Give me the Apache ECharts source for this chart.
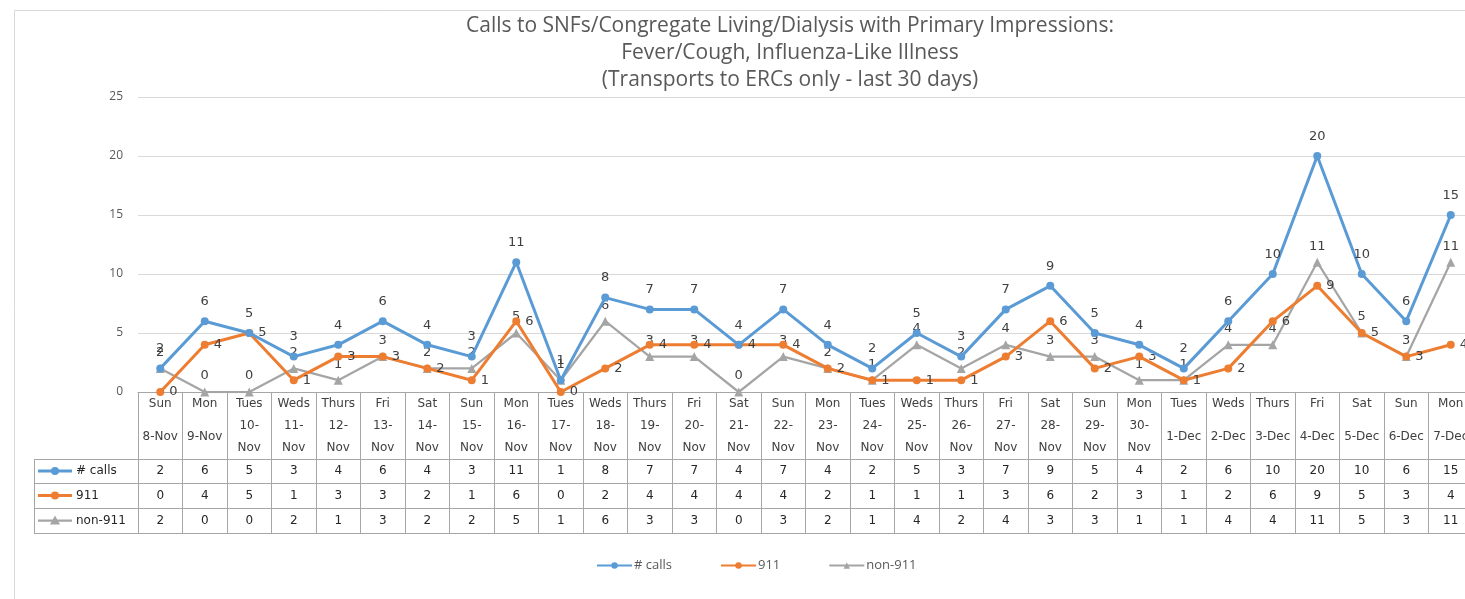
<!DOCTYPE html>
<html><head><meta charset="utf-8">
<script src="https://cdn.jsdelivr.net/npm/echarts@6/dist/echarts.min.js"></script>
<style>html,body{margin:0;padding:0;background:#fff}#c{width:1465px;height:599px}</style>
</head><body><div id="c"></div>
<script>
const titleLines = ['Calls to SNFs/Congregate Living/Dialysis with Primary Impressions:', 'Fever/Cough, Influenza-Like Illness', '(Transports to ERCs only - last 30 days)'];
const days = ['Sun','Mon','Tues','Weds','Thurs','Fri','Sat','Sun','Mon','Tues','Weds','Thurs','Fri','Sat','Sun','Mon','Tues','Weds','Thurs','Fri','Sat','Sun','Mon','Tues','Weds','Thurs','Fri','Sat','Sun','Mon'];
const dates = ['8-Nov','9-Nov','10-Nov','11-Nov','12-Nov','13-Nov','14-Nov','15-Nov','16-Nov','17-Nov','18-Nov','19-Nov','20-Nov','21-Nov','22-Nov','23-Nov','24-Nov','25-Nov','26-Nov','27-Nov','28-Nov','29-Nov','30-Nov','1-Dec','2-Dec','3-Dec','4-Dec','5-Dec','6-Dec','7-Dec'];
const seriesNames = ['# calls', '911', 'non-911'];
const calls = [2,6,5,3,4,6,4,3,11,1,8,7,7,4,7,4,2,5,3,7,9,5,4,2,6,10,20,10,6,15];
const n911 = [0,4,5,1,3,3,2,1,6,0,2,4,4,4,4,2,1,1,1,3,6,2,3,1,2,6,9,5,3,4];
const non911 = [2,0,0,2,1,3,2,2,5,1,6,3,3,0,3,2,1,4,2,4,3,3,1,1,4,4,11,5,3,11];
const yTicks = [0,5,10,15,20,25];

const colors = ['#5b9bd5', '#ed7d31', '#a5a5a5'];
const FONT = 'Open Sans';
const TFONT = 'DejaVu Sans';
const categories = days.map((d, i) => d + '|' + dates[i]);

const chart = echarts.init(document.getElementById('c'), null, {renderer: 'canvas'});
const GRID = {left: 138, top: 97, height: 295, width: 1335, containLabel: false, outerBoundsMode: 'none'};
const labelStyle = {show: true, color: '#404040', fontSize: 13, fontFamily: TFONT};

const option = {
  animation: false,
  textStyle: {fontFamily: FONT},
  grid: GRID,
  legend: {
    top: 554, left: 591, itemWidth: 35, itemHeight: 8, itemGap: 48,
    textStyle: {color: '#595959', fontSize: 13, fontFamily: FONT, padding: [0, 0, 0, -3]},
    data: seriesNames
  },
  xAxis: {
    type: 'category', data: categories, boundaryGap: true,
    axisLine: {lineStyle: {color: '#a6a6a6', width: 1}},
    axisTick: {show: true, length: 141, lineStyle: {color: '#a6a6a6', width: 1}},
    axisLabel: {
      interval: 0, margin: 1, color: '#404040', fontFamily: TFONT, fontSize: 12,
      formatter: function (v) {
        const p = v.split('|');
        const dt = p[1];
        if (dt.length > 5) {
          const k = dt.indexOf('-');
          return '{d|' + p[0] + '}\n{a|' + dt.slice(0, k + 1) + '}\n{a|' + dt.slice(k + 1) + '}';
        }
        return '{d|' + p[0] + '}\n{b|' + dt + '}';
      },
      rich: {
        d: {lineHeight: 22, fontSize: 12, color: '#404040', fontFamily: TFONT},
        a: {lineHeight: 22, fontSize: 12, color: '#404040', fontFamily: TFONT},
        b: {lineHeight: 44, fontSize: 12, color: '#404040', fontFamily: TFONT}
      }
    }
  },
  yAxis: {
    type: 'value', min: 0, max: 25, interval: 5,
    axisLine: {show: false}, axisTick: {show: false},
    axisLabel: {color: '#595959', fontSize: 12, fontFamily: FONT, margin: 15,
      formatter: v => (yTicks.indexOf(v) >= 0 ? String(v) : '')},
    splitLine: {lineStyle: {color: '#d9d9d9', width: 1}}
  },
  series: [
    {name: seriesNames[0], type: 'line', data: calls, symbol: 'circle', symbolSize: 8,
      lineStyle: {color: colors[0], width: 3}, itemStyle: {color: colors[0]},
      label: Object.assign({}, labelStyle, {position: 'top', distance: 9}), z: 4},
    {name: seriesNames[1], type: 'line', data: n911, symbol: 'circle', symbolSize: 8,
      lineStyle: {color: colors[1], width: 3}, itemStyle: {color: colors[1]},
      label: Object.assign({}, labelStyle, {position: 'right', distance: 5}), z: 3},
    {name: seriesNames[2], type: 'line', data: non911, symbol: 'triangle', symbolSize: 9,
      lineStyle: {color: colors[2], width: 2.25}, itemStyle: {color: colors[2]},
      label: Object.assign({}, labelStyle, {position: 'top', distance: 5}), z: 2}
  ]
};
chart.setOption(option);

// Data table and title built from the axis scale
const xs = categories.map((c, i) => chart.convertToPixel({xAxisIndex: 0}, i));
const colW = xs.length > 1 ? xs[1] - xs[0] : 44;
const yAxis0 = chart.convertToPixel({yAxisIndex: 0}, 0);
const tableLeft = 34;
const headerBottom = yAxis0 + 67;
const rowH = [24, 25, 25];
const rowTops = [headerBottom, headerBottom + rowH[0], headerBottom + rowH[0] + rowH[1]];
const tableBottom = rowTops[2] + rowH[2];
const rightEdge = xs[xs.length - 1] + colW / 2;
const lineStyle = {stroke: '#a6a6a6', lineWidth: 1};
const g = [];
g.push({type: 'rect', shape: {x: 14.5, y: 10.5, width: 1500, height: 700}, style: {fill: null, stroke: '#d9d9d9', lineWidth: 1}, silent: true, z: -10});
titleLines.forEach((t, i) => g.push({type: 'text', x: 790, y: 26 + i * 27,
  style: {text: t, fill: '#595959', fontSize: 21, fontFamily: FONT, align: 'center', verticalAlign: 'middle'}}));
[rowTops[0], rowTops[1], rowTops[2], tableBottom].forEach(y => g.push({type: 'line',
  shape: {x1: tableLeft, y1: Math.round(y) + 0.5, x2: rightEdge + 20, y2: Math.round(y) + 0.5}, style: lineStyle}));
g.push({type: 'line', shape: {x1: tableLeft + 0.5, y1: Math.round(rowTops[0]) + 0.5, x2: tableLeft + 0.5, y2: Math.round(tableBottom) + 0.5}, style: lineStyle});
const rows = [calls, n911, non911];
rows.forEach((arr, r) => {
  const cy = rowTops[r] + rowH[r] / 2;
  arr.forEach((v, i) => g.push({type: 'text', x: xs[i], y: cy,
    style: {text: String(v), fill: '#262626', fontSize: 12, fontFamily: TFONT, align: 'center', verticalAlign: 'middle'}}));
  g.push({type: 'line', shape: {x1: 38, y1: cy, x2: 72, y2: cy}, style: {stroke: colors[r], lineWidth: r === 2 ? 2.25 : 3}});
  if (r < 2) g.push({type: 'circle', shape: {cx: 55, cy: cy, r: 4}, style: {fill: colors[r]}});
  else g.push({type: 'polygon', shape: {points: [[55, cy - 5], [60, cy + 4], [50, cy + 4]]}, style: {fill: colors[r]}});
  g.push({type: 'text', x: 76, y: cy, style: {text: seriesNames[r], fill: '#262626', fontSize: 12, fontFamily: TFONT, align: 'left', verticalAlign: 'middle'}});
});
chart.setOption({graphic: {elements: g}});
</script>
</body></html>
